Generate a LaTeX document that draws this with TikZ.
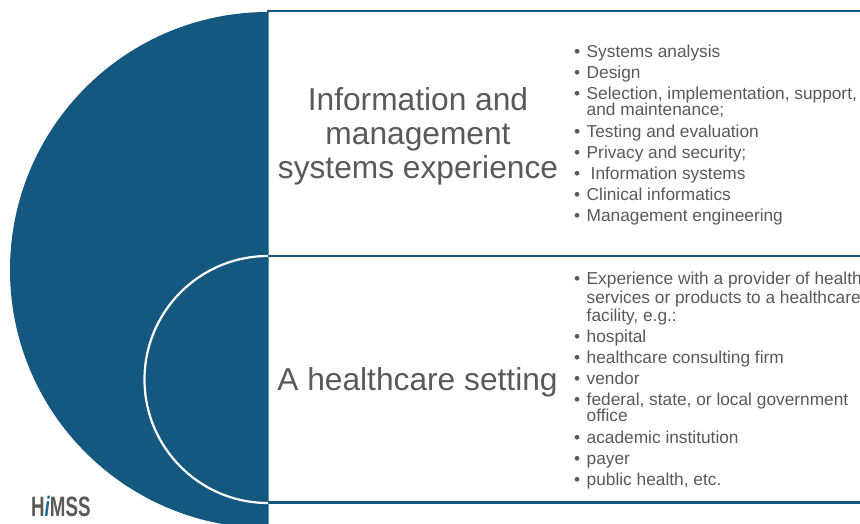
\documentclass[tikz,border=0pt]{standalone}
\usepackage{fontspec}
\setmainfont{Liberation Sans}
\definecolor{navy}{HTML}{14577F}
\definecolor{txt}{HTML}{595959}
\definecolor{logogray}{HTML}{5A5A58}
\definecolor{logoblue}{HTML}{1A6E96}
\tikzset{
  x=1pt,y=-1pt,
  rule/.style={draw=navy,line width=2.2pt},
  big/.style={anchor=base,inner sep=0,text=txt,font=\fontsize{31.7}{31.7}\selectfont},
  item/.style={anchor=base west,inner sep=0,text=txt,font=\fontsize{17.3}{17.3}\selectfont},
  bul/.style={anchor=base west,inner sep=0,text=txt,font=\fontsize{17.3}{17.3}\selectfont}
}
\newcommand{\itm}[3]{\node[bul] (b#1) at (574,#2) {•};\node[item] (t#1) at (586.5,#2) {#3};}
\newcommand{\cont}[3]{\node[item] (t#1) at (586.5,#2) {#3};}
\begin{document}
\begin{tikzpicture}
\useasboundingbox (0,0) rectangle (860,523);
\begin{scope}
\clip (0,0) rectangle (268.5,523);
\fill[navy] (268,270) circle[radius=258];
\draw[white,line width=2.2pt] (268,379.5) circle[radius=123.5];
\end{scope}
\coordinate (topL) at (267,11);
\coordinate (topR) at (860,11);
\coordinate (midL) at (268,256);
\coordinate (midR) at (860,256);
\coordinate (botL) at (268,502.5);
\coordinate (botR) at (860,502.5);
\draw[rule] (topL) -- (topR);
\draw[rule] (midL) -- (midR);
\draw[rule] (botL) -- (botR);
\node[big] (h1) at (418,110) {Information and};
\node[big] (h2) at (418,144) {management};
\node[big] (h3) at (418,178) {systems experience};
\node[big] (h4) at (417.5,390) {A healthcare setting};
\itm{a1}{57}{Systems analysis}
\itm{a2}{78}{Design}
\itm{a3}{99}{Selection, implementation, support,}
\cont{a3b}{115}{and maintenance;}
\itm{a4}{137}{Testing and evaluation}
\itm{a5}{158}{Privacy and security;}
\itm{a6}{179}{\hspace{4pt}Information systems}
\itm{a7}{200}{Clinical informatics}
\itm{a8}{221}{Management engineering}
\itm{c1}{284}{Experience with a provider of health}
\cont{c1b}{303}{services or products to a healthcare}
\cont{c1c}{321}{facility, e.g.:}
\itm{c2}{342}{hospital}
\itm{c3}{363}{healthcare consulting firm}
\itm{c4}{384}{vendor}
\itm{c5}{405}{federal, state, or local government}
\cont{c5b}{421}{office}
\itm{c6}{443}{academic institution}
\itm{c7}{464}{payer}
\itm{c8}{485}{public health, etc.}
\node[anchor=base west,inner sep=0,text=logogray,font=\bfseries\fontsize{28}{28}\selectfont,xscale=0.67] (logo) at (31,516) {H\textcolor{logoblue}{\itshape i}MSS};
\end{tikzpicture}
\end{document}
